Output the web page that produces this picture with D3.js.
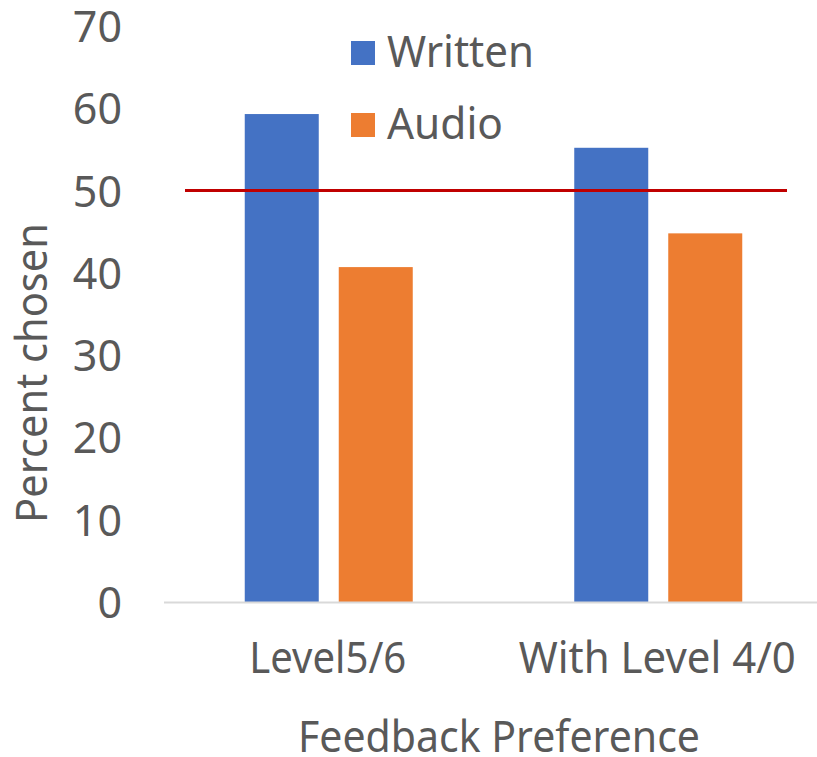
<!DOCTYPE html>
<html>
<head>
<meta charset="utf-8">
<script src="https://cdn.jsdelivr.net/npm/d3@7"></script>
<style>
  body { margin: 0; background: #fff; }
  svg text { font-family: "Noto Sans", "Open Sans", sans-serif; fill: #595959; }
</style>
</head>
<body>
<svg id="chart" width="817" height="757"></svg>
<script>
  // data
  var categories = [ "Level5/6" , "With Level 4/0" ];
  var seriesNames = [ "Written" , "Audio" ];
  var written = [ 59.3 , 55.2 ];
  var audio = [ 40.7 , 44.8 ];
  var refValue = 50;
  var yTicks = [ 0 , 10 , 20 , 30 , 40 , 50 , 60 , 70 ];

  var colors = { Written : "#4472C4" , Audio : "#ED7D31" };
  var svg = d3.select( "#chart" );

  var y = d3.scaleLinear().domain( [ 0 , 70 ] ).range( [ 602 , 26 ] );
  var x0 = d3.scaleBand().domain( categories ).range( [ 164 , 823 ] );
  var groupW = 168;
  var x1 = d3.scaleBand().domain( seriesNames ).range( [ 0 , groupW ] ).paddingInner( 0.2128 );

  var rows = categories.map( function( c , i ) {
    return { cat : c , values : [ { key : "Written" , v : written[ i ] } , { key : "Audio" , v : audio[ i ] } ] };
  } );

  // y axis labels (no line, no ticks)
  var yAxis = svg.append( "g" )
    .attr( "transform" , "translate(122,0)" )
    .call( d3.axisLeft( y ).tickValues( yTicks ).tickSize( 0 ).tickPadding( 0 ) );
  yAxis.select( ".domain" ).remove();
  yAxis.selectAll( "text" )
    .attr( "font-size" , 43 )
    .attr( "font-family" , null )
    .attr( "fill" , "#595959" )
    .attr( "dy" , "0.36em" );

  // bars
  var groups = svg.selectAll( "g.cat" ).data( rows ).enter().append( "g" )
    .attr( "class" , "cat" )
    .attr( "transform" , function( d ) { return "translate(" + ( x0( d.cat ) + ( x0.bandwidth() - groupW ) / 2 ) + ",0)"; } );

  groups.selectAll( "rect" ).data( function( d ) { return d.values; } ).enter().append( "rect" )
    .attr( "x" , function( d ) { return x1( d.key ); } )
    .attr( "width" , x1.bandwidth() )
    .attr( "y" , function( d ) { return y( d.v ); } )
    .attr( "height" , function( d ) { return y( 0 ) - y( d.v ); } )
    .attr( "fill" , function( d ) { return colors[ d.key ]; } );

  // baseline
  svg.append( "line" )
    .attr( "x1" , 164 ).attr( "x2" , 817 )
    .attr( "y1" , y( 0 ) + 0.5 ).attr( "y2" , y( 0 ) + 0.5 )
    .attr( "stroke" , "#D9D9D9" ).attr( "stroke-width" , 2 );

  // 50% reference line
  svg.append( "line" )
    .attr( "x1" , 185 ).attr( "x2" , 787 )
    .attr( "y1" , y( refValue ) ).attr( "y2" , y( refValue ) )
    .attr( "stroke" , "#C00000" ).attr( "stroke-width" , 3 );

  // category labels
  var catWidths = [ 157 , 277 ];
  svg.selectAll( "text.cat" ).data( categories ).enter().append( "text" )
    .attr( "class" , "cat" )
    .attr( "x" , function( d ) { return x0( d ) + x0.bandwidth() / 2 - 1; } )
    .attr( "y" , 673 )
    .attr( "text-anchor" , "middle" )
    .attr( "font-size" , 43 )
    .attr( "textLength" , function( d , i ) { return catWidths[ i ]; } )
    .attr( "lengthAdjust" , "spacingAndGlyphs" )
    .text( function( d ) { return d; } );

  // axis titles
  svg.append( "text" )
    .attr( "x" , 499 ).attr( "y" , 752 )
    .attr( "text-anchor" , "middle" )
    .attr( "font-size" , 43 )
    .attr( "textLength" , 402 ).attr( "lengthAdjust" , "spacingAndGlyphs" )
    .text( "Feedback Preference" );

  svg.append( "text" )
    .attr( "transform" , "translate(47,373) rotate(-90)" )
    .attr( "text-anchor" , "middle" )
    .attr( "font-size" , 43 )
    .attr( "textLength" , 300 ).attr( "lengthAdjust" , "spacingAndGlyphs" )
    .text( "Percent chosen" );

  // legend
  var legendW = [ 147 , 116 ];
  var legend = svg.selectAll( "g.legend" ).data( seriesNames ).enter().append( "g" )
    .attr( "class" , "legend" )
    .attr( "transform" , function( d , i ) { return "translate(351," + ( 41 + i * 72 ) + ")"; } );
  legend.append( "rect" )
    .attr( "width" , 24 ).attr( "height" , 24 )
    .attr( "fill" , function( d ) { return colors[ d ]; } );
  legend.append( "text" )
    .attr( "x" , 36 ).attr( "y" , 26 )
    .attr( "font-size" , 43 )
    .attr( "textLength" , function( d , i ) { return legendW[ i ]; } )
    .attr( "lengthAdjust" , "spacingAndGlyphs" )
    .text( function( d ) { return d; } );
</script>
</body>
</html>
